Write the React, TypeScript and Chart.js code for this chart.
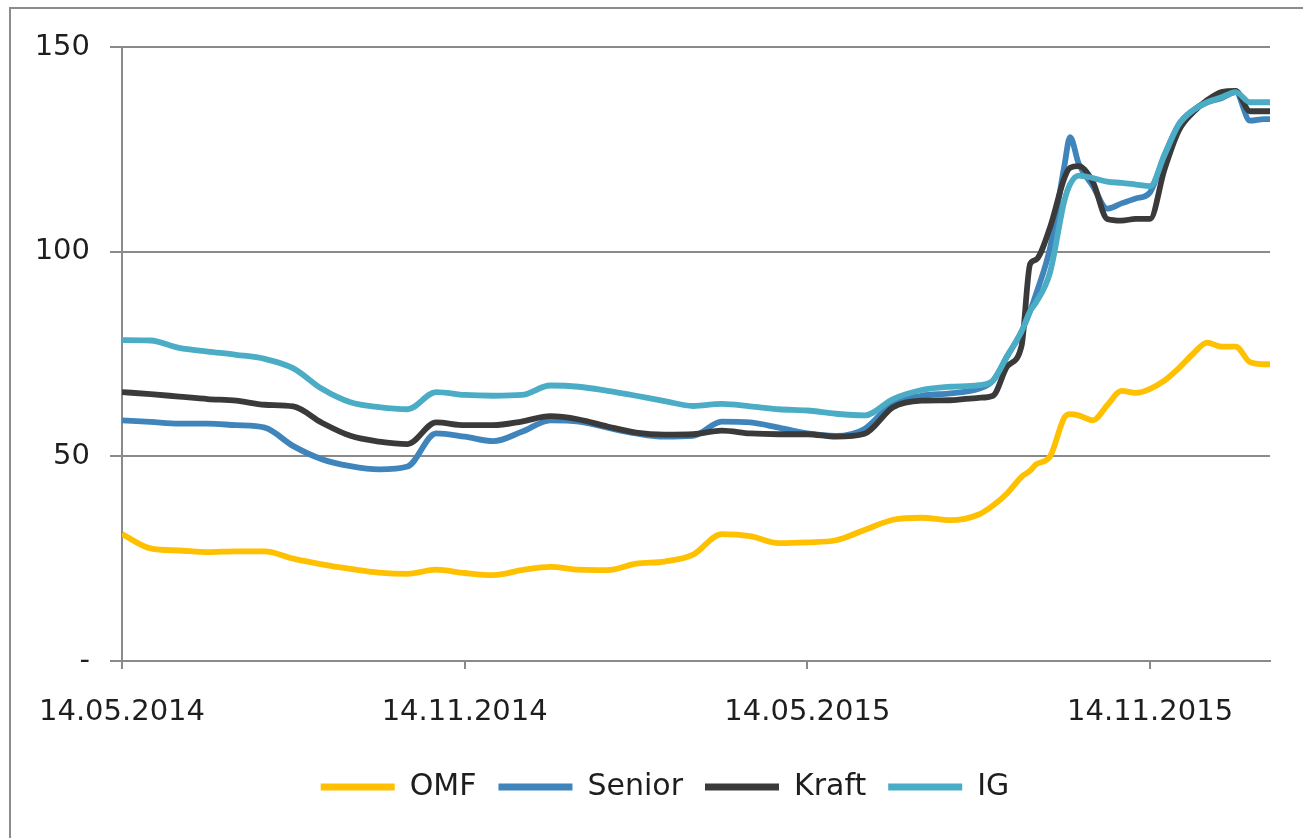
import React, { useEffect, useRef } from "react";
import { Chart, registerables } from "chart.js";

Chart.register(...registerables);

// x position in months after 14.05.2014
const months = [
  0, 0.5, 1, 1.5, 2, 2.5, 3, 3.5, 4, 4.5, 5, 5.5, 6, 6.5, 7, 7.5, 8, 8.5, 9, 9.5,
  10, 10.5, 11, 11.5, 12, 12.5, 13, 13.5, 14, 14.5, 15, 15.25, 15.5, 15.75, 15.9,
  16, 16.25, 16.5, 16.6, 16.75, 17, 17.25, 17.5, 17.75, 18, 18.25, 18.5, 18.75,
  19, 19.25, 19.5, 19.75, 20, 20.1,
];

const omf = [
  31, 27.5, 27, 26.6, 26.8, 26.8, 25, 23.6, 22.5, 21.6, 21.3, 22.3, 21.5, 21,
  22.2, 23, 22.3, 22.2, 23.8, 24.3, 26, 31, 30.5, 28.8, 29, 29.5, 32, 34.5, 35,
  34.4, 35.8, 38, 41, 45, 46.5, 48, 50, 59.5, 60.3, 60, 58.8, 62.5, 66, 65.5,
  66.5, 68.5, 71.5, 75, 77.8, 76.8, 76.8, 73, 72.5, 72.5,
];

const senior = [
  58.8, 58.4, 58, 58, 57.6, 57, 52.5, 49.3, 47.6, 46.8, 47.5, 55.6, 54.8, 53.7,
  56, 58.8, 58.5, 57, 55.6, 54.8, 55, 58.5, 58.3, 57, 55.6, 55, 56.7, 63, 64.8,
  65.4, 66.5, 68.5, 74.5, 80.5, 85.5, 89.5, 101, 121, 128, 121.5, 116, 110.5,
  111.8, 113, 114.5, 123.5, 131, 134.5, 136.5, 137.5, 139, 132, 132.4, 132.4,
];

const kraft = [
  65.7, 65.2, 64.6, 64, 63.6, 62.6, 62.2, 58.2, 55, 53.6, 53, 58.3, 57.6, 57.6,
  58.5, 59.8, 59, 57.3, 55.8, 55.3, 55.4, 56.3, 55.6, 55.4, 55.4, 54.8, 55.5,
  62, 63.6, 63.7, 64.3, 64.8, 72, 77, 97, 98, 106, 118, 120.5, 120.9, 117, 108,
  107.6, 108, 108, 120, 129.5, 134, 137, 139, 139.3, 134.3, 134.3, 134.3,
];

const ig = [
  78.4, 78.3, 76.5, 75.6, 74.8, 73.8, 71.5, 66.5, 63.2, 62, 61.5, 65.7, 65,
  64.8, 65, 67.3, 67, 66, 64.8, 63.5, 62.3, 62.8, 62.2, 61.5, 61.2, 60.4, 60,
  64, 66.2, 67, 67.4, 68.5, 74.5, 80.5, 85.5, 87.5, 95, 112.5, 116.5, 118.6,
  118, 117.1, 116.8, 116.4, 116, 123.5, 131, 134.5, 136.5, 137.7, 139, 136.5,
  136.5, 136.5,
];

const seriesNames = ["OMF", "Senior", "Kraft", "IG"];
const seriesColors = ["#FFC000", "#3F85BC", "#3A3A3A", "#4BACC6"];
const tickMonths = [0, 6, 12, 18];
const tickLabels = ["14.05.2014", "14.11.2014", "14.05.2015", "14.11.2015"];

const FONT = "'DejaVu Sans', Verdana, sans-serif";

const legendShift = {
  id: "legendShift",
  afterLayout(chart: any) {
    if (chart.legend) chart.legend.left += 60;
  },
};

export default function App() {
  const ref = useRef<HTMLCanvasElement | null>(null);

  useEffect(() => {
    if (!ref.current) return;
    const values = [omf, senior, kraft, ig];
    const datasets = seriesNames.map((name, i) => ({
      label: name,
      data: months.map((m, j) => ({ x: m, y: values[i][j] })),
      borderColor: seriesColors[i],
      backgroundColor: seriesColors[i],
      borderWidth: 5.8,
      pointRadius: 0,
      cubicInterpolationMode: "monotone" as const,
      order: 3 - i,
    }));

    const chart = new Chart(ref.current, {
      type: "line",
      data: { datasets },
      plugins: [legendShift],
      options: {
        animation: false,
        responsive: false,
        layout: { padding: { top: 47, right: 33, bottom: 26, left: 0 } },
        plugins: {
          tooltip: { enabled: false },
          legend: {
            position: "bottom",
            labels: {
              font: { family: FONT, size: 30 },
              color: "#1e1e1e",
              boxWidth: 74,
              boxHeight: 7,
              padding: 22,
              sort: (a: any, b: any) => a.datasetIndex - b.datasetIndex,
              generateLabels: (c: any) =>
                Chart.defaults.plugins.legend.labels
                  .generateLabels(c)
                  .map((l: any) => ({ ...l, lineWidth: 0, fillStyle: l.strokeStyle })),
            },
          },
        },
        scales: {
          x: {
            type: "linear",
            min: 0,
            max: 20.1,
            afterBuildTicks: (scale: any) => {
              scale.ticks = tickMonths.map((v) => ({ value: v }));
            },
            afterFit: (scale: any) => {
              scale.height = 89;
            },
            ticks: {
              autoSkip: false,
              maxRotation: 0,
              padding: 26,
              font: { family: FONT, size: 29 },
              color: "#1e1e1e",
              callback: (v: any) => {
                const k = tickMonths.indexOf(Number(v));
                return k >= 0 ? tickLabels[k] : "";
              },
            },
            grid: {
              drawOnChartArea: false,
              drawTicks: true,
              tickLength: 8,
              color: "#8a8a8a",
              lineWidth: 2,
            },
            border: { display: true, color: "#8a8a8a", width: 2 },
          },
          y: {
            min: 0,
            max: 150,
            afterFit: (scale: any) => {
              scale.width = 122;
            },
            ticks: {
              stepSize: 50,
              padding: 20,
              font: { family: FONT, size: 29 },
              color: "#1e1e1e",
              callback: (v: any) => (Number(v) === 0 ? "-" : String(v)),
            },
            grid: {
              color: "#8a8a8a",
              lineWidth: 2,
              tickLength: 12,
            },
            border: { display: true, color: "#8a8a8a", width: 2 },
          },
        },
      },
    });
    return () => chart.destroy();
  }, []);

  return (
    <div style={{ position: "absolute", left: 0, top: 0, width: 1303, height: 838, overflow: "hidden", background: "#fff" }}>
      <div
        style={{
          position: "absolute",
          left: 9,
          top: 7,
          width: 1294,
          height: 831,
          borderLeft: "2px solid #8c8c8c",
          borderTop: "2px solid #8c8c8c",
          boxSizing: "border-box",
        }}
      />
      <canvas ref={ref} width={1303} height={838} style={{ position: "absolute", left: 0, top: 0, display: "block" }} />
    </div>
  );
}
